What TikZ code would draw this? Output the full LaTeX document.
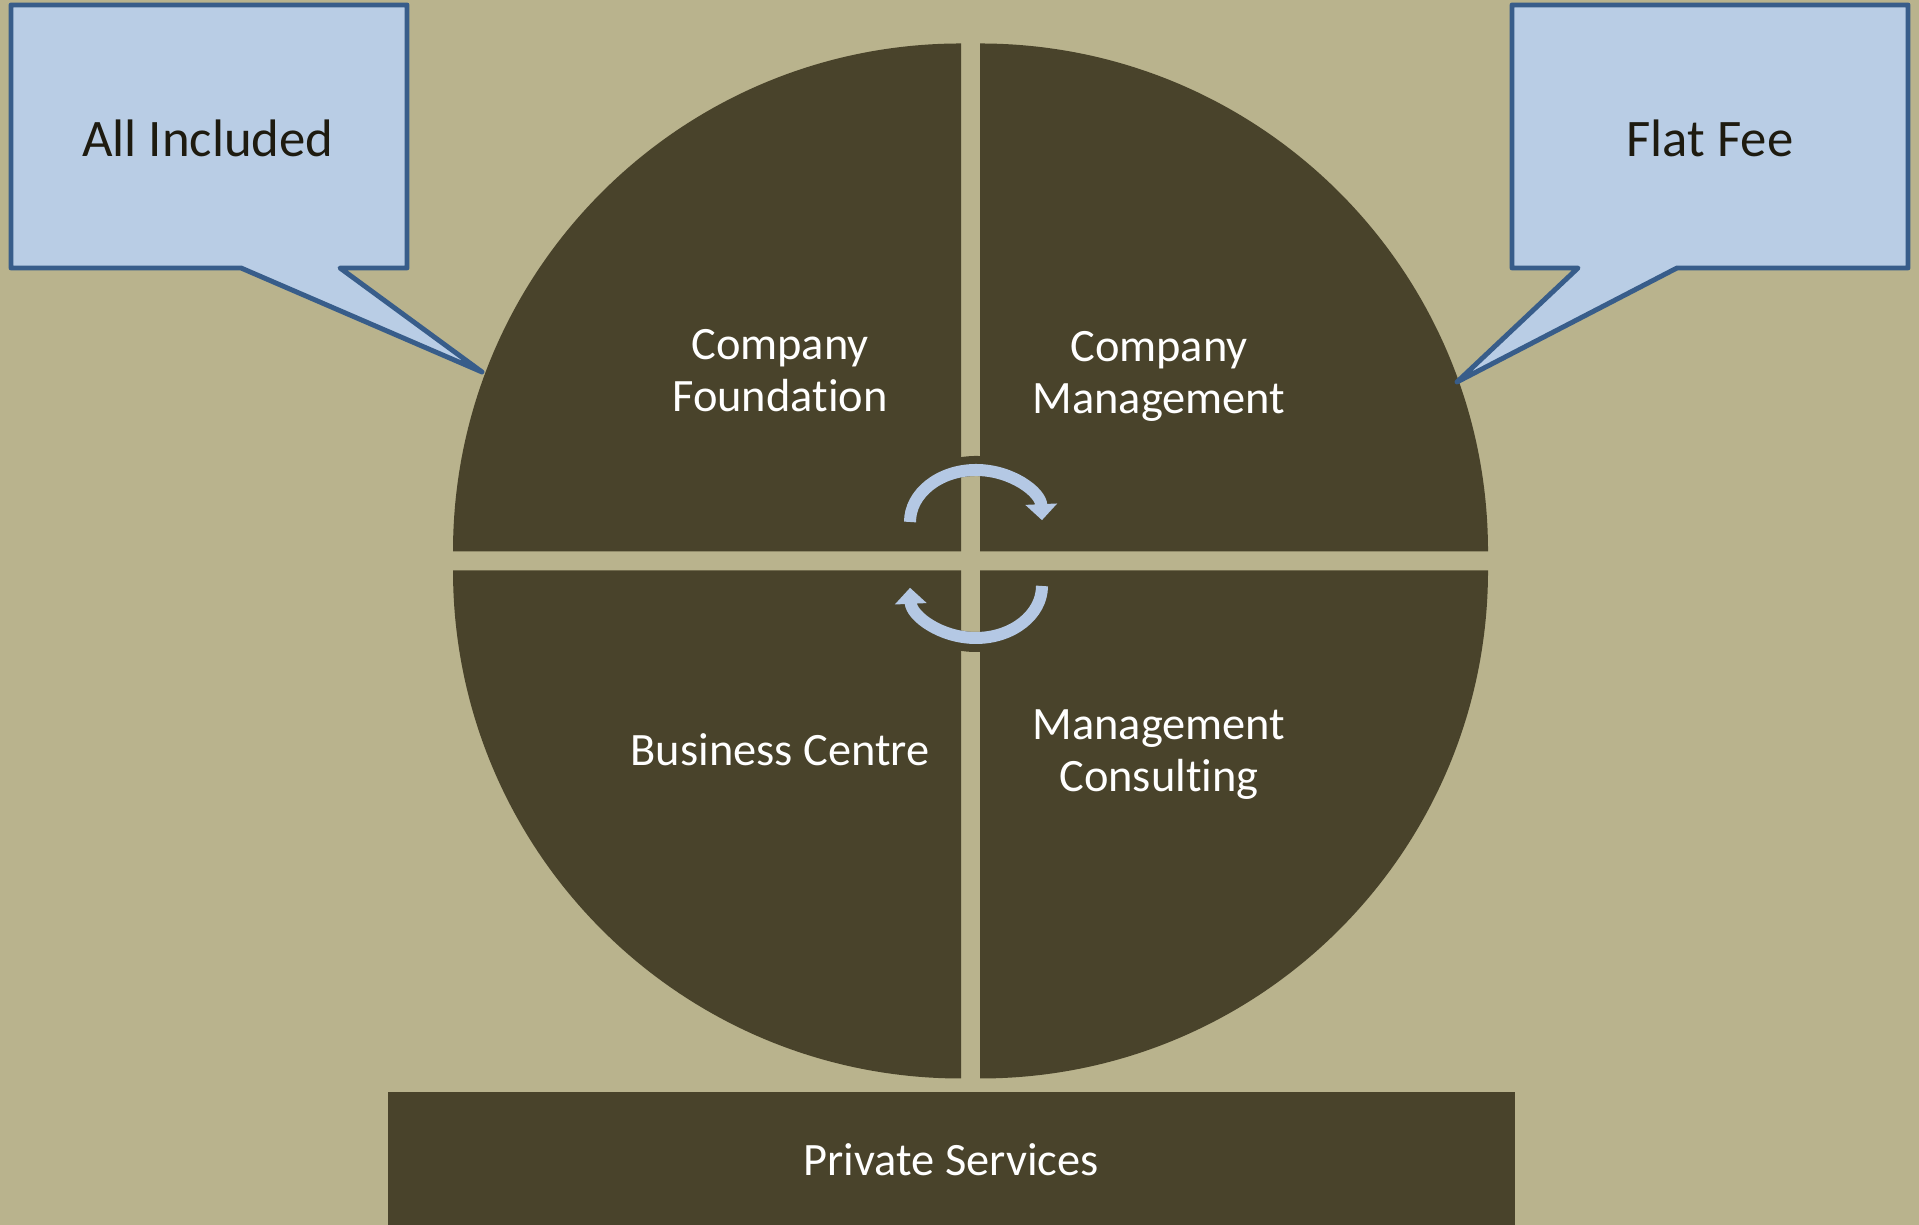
\documentclass[tikz,border=0pt]{standalone}
\usepackage{fontspec}
\setmainfont[Ligatures={NoCommon}]{Carlito}
\usepackage{tikz}
\usetikzlibrary{arrows.meta,positioning}

\definecolor{khaki}{HTML}{B9B38D}
\definecolor{segbrown}{HTML}{49432B}
\definecolor{calloutfill}{HTML}{B9CDE5}
\definecolor{calloutline}{HTML}{385D8A}
\definecolor{calloutink}{HTML}{1E1B10}
\definecolor{cyclearrow}{HTML}{B4C8E4}

\begin{document}
\begin{tikzpicture}[x=0.01cm, y=0.01cm,
  quarter/.style={fill=segbrown},
  seglabel/.style={text=white, align=center, font=\fontsize{13.2}{14.8}\selectfont},
  callout/.style={fill=calloutfill, draw=calloutline, line width=1.4pt, line join=round},
  calloutlabel/.style={text=calloutink, font=\fontsize{15}{17}\selectfont},
  cycle under/.style={draw=segbrown, line width=0.2cm},
  cycle arrow/.style={draw=cyclearrow, line width=0.12cm,
    -{Triangle[width=0.31cm, length=0.16cm]}}]

% background
\fill[khaki] (0,0) rectangle (1919,1225);
\useasboundingbox (0,0) rectangle (1919,1225);

% the four quarters
\foreach \cx/\cy/\a in {961/673.5/90, 980/673.5/0, 961/654.5/180, 980/654.5/270}
  \fill[quarter] (\cx,\cy) -- ++(\a:508)
    arc[start angle=\a, delta angle=90, radius=508] -- cycle;

% base bar
\fill[quarter] (388,0) rectangle (1515,133);
\node[seglabel] (private) at (951,65) {Private Services};

% labels of the quarters
\foreach \name/\x/\y/\txt in {foundation/780/854/{Company\\Foundation},
    management/1159/849/{Company\\Management},
    centre/780/475/{Business Centre},
    consulting/1159/470/{Management\\Consulting}}
  \node[seglabel] (\name) at (\x,\y) {\txt};

% cycle arrows in the middle
\draw[cycle under] (976,703) ++(150:70 and 56)
  arc[start angle=150, end angle=30, x radius=70, y radius=56];
\draw[cycle under] (976,639) ++(-30:70 and 56)
  arc[start angle=-30, end angle=-150, x radius=70, y radius=56];
\draw[cycle arrow] (976,703) ++(180:66 and 52)
  arc[start angle=180, end angle=2, x radius=66, y radius=52];
\draw[cycle arrow] (976,639) ++(0:66 and 52)
  arc[start angle=0, end angle=-178, x radius=66, y radius=52];

% callouts
\draw[callout] (11,957) -- (11,1220) -- (407,1220) -- (407,957)
  -- (340,957) -- (482,853) -- (241,957) -- cycle;
\node[calloutlabel] (included) at (208,1087) {All Included};

\draw[callout] (1512,957) -- (1512,1220) -- (1908,1220) -- (1908,957)
  -- (1677,957) -- (1457,843) -- (1578,957) -- cycle;
\node[calloutlabel] (flatfee) at (1710,1087) {Flat Fee};

\end{tikzpicture}
\end{document}
